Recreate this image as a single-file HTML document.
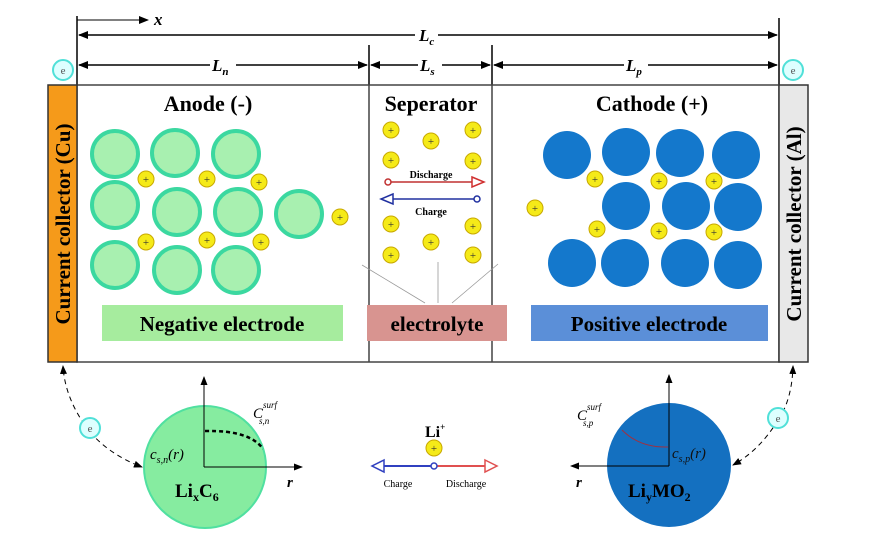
<!DOCTYPE html>
<html><head><meta charset="utf-8"><style>body{margin:0;background:#fff}svg{display:block}</style></head><body>
<svg width="880" height="540" viewBox="0 0 880 540" xmlns="http://www.w3.org/2000/svg" font-family="Liberation Serif, serif">
<defs>
<marker id="ah" markerWidth="10" markerHeight="8" refX="9" refY="4" orient="auto" markerUnits="userSpaceOnUse"><path d="M0,0 L10,4 L0,8 z" fill="#000"/></marker>
<marker id="ahs" markerWidth="9" markerHeight="7" refX="8" refY="3.5" orient="auto" markerUnits="userSpaceOnUse"><path d="M0,0 L9,3.5 L0,7 z" fill="#000"/></marker>
<g id="ion"><circle r="8" fill="#f5ea18" stroke="#c8a800" stroke-width="1"/><text y="4" font-size="11" text-anchor="middle" fill="#333">+</text></g>
<g id="an"><circle r="23" fill="#a8f0b0" stroke="#3bd8a0" stroke-width="4"/></g>
<g id="ca"><circle r="24" fill="#1478cc"/></g>
<g id="e"><circle r="10" fill="#dff" stroke="#50e0d8" stroke-width="2"/><text y="4" font-size="11" text-anchor="middle" fill="#555">e</text></g>
</defs>
<g stroke="#000" stroke-width="1.5">
<line x1="77" y1="16" x2="77" y2="85"/><line x1="779" y1="18" x2="779" y2="85"/>
<line x1="369" y1="45" x2="369" y2="85"/><line x1="492" y1="45" x2="492" y2="85"/>
<line x1="77" y1="20" x2="148" y2="20" marker-end="url(#ah)" stroke-width="1"/>
<line x1="415" y1="35" x2="79" y2="35" marker-end="url(#ah)"/><line x1="438" y1="35" x2="777" y2="35" marker-end="url(#ah)"/>
<line x1="210" y1="65" x2="79" y2="65" marker-end="url(#ah)"/><line x1="236" y1="65" x2="367" y2="65" marker-end="url(#ah)"/>
<line x1="418" y1="65" x2="371" y2="65" marker-end="url(#ah)"/><line x1="442" y1="65" x2="490" y2="65" marker-end="url(#ah)"/>
<line x1="624" y1="65" x2="494" y2="65" marker-end="url(#ah)"/><line x1="648" y1="65" x2="777" y2="65" marker-end="url(#ah)"/>
</g>
<g font-style="italic" font-weight="bold" font-size="17">
<text x="154" y="25">x</text><text x="419" y="41">L<tspan font-size="11" dy="4">c</tspan></text>
<text x="212" y="71">L<tspan font-size="11" dy="4">n</tspan></text><text x="420" y="71">L<tspan font-size="11" dy="4">s</tspan></text>
<text x="626" y="71">L<tspan font-size="11" dy="4">p</tspan></text>
</g>
<use href="#e" x="63" y="70"/><use href="#e" x="793" y="70"/>
<rect x="77" y="85" width="702" height="277" fill="#fff" stroke="#444" stroke-width="1.5"/>
<line x1="369" y1="85" x2="369" y2="362" stroke="#444" stroke-width="1.5"/>
<line x1="492" y1="85" x2="492" y2="362" stroke="#444" stroke-width="1.5"/>
<rect x="48" y="85" width="29" height="277" fill="#f59a1a" stroke="#333" stroke-width="1.5"/>
<rect x="779" y="85" width="29" height="277" fill="#e8e8e8" stroke="#333" stroke-width="1.5"/>
<text transform="translate(70,224) rotate(-90)" font-size="21" font-weight="bold" text-anchor="middle">Current collector (Cu)</text>
<text transform="translate(801,224) rotate(-90)" font-size="21" font-weight="bold" text-anchor="middle">Current collector (Al)</text>
<g font-size="22" font-weight="bold" text-anchor="middle">
<text x="208" y="111">Anode (-)</text><text x="431" y="111">Seperator</text><text x="652" y="111">Cathode (+)</text>
</g>
<use href="#an" x="115" y="154"/><use href="#an" x="175" y="153"/><use href="#an" x="236" y="154"/>
<use href="#an" x="115" y="205"/><use href="#an" x="177" y="212"/><use href="#an" x="238" y="212"/><use href="#an" x="299" y="214"/>
<use href="#an" x="115" y="265"/><use href="#an" x="177" y="270"/><use href="#an" x="236" y="270"/>
<use href="#ion" x="146" y="179"/><use href="#ion" x="207" y="179"/><use href="#ion" x="259" y="182"/><use href="#ion" x="340" y="217"/>
<use href="#ion" x="146" y="242"/><use href="#ion" x="207" y="240"/><use href="#ion" x="261" y="242"/>
<use href="#ca" x="567" y="155"/><use href="#ca" x="626" y="152"/><use href="#ca" x="680" y="153"/><use href="#ca" x="736" y="155"/>
<use href="#ca" x="626" y="206"/><use href="#ca" x="686" y="206"/><use href="#ca" x="738" y="207"/>
<use href="#ca" x="572" y="263"/><use href="#ca" x="625" y="263"/><use href="#ca" x="685" y="263"/><use href="#ca" x="738" y="265"/>
<use href="#ion" x="595" y="179"/><use href="#ion" x="659" y="181"/><use href="#ion" x="714" y="181"/><use href="#ion" x="535" y="208"/>
<use href="#ion" x="597" y="229"/><use href="#ion" x="659" y="231"/><use href="#ion" x="714" y="232"/>
<use href="#ion" x="391" y="130"/><use href="#ion" x="431" y="141"/><use href="#ion" x="473" y="130"/>
<use href="#ion" x="391" y="160"/><use href="#ion" x="473" y="161"/>
<use href="#ion" x="391" y="224"/><use href="#ion" x="431" y="242"/><use href="#ion" x="473" y="226"/>
<use href="#ion" x="391" y="255"/><use href="#ion" x="473" y="255"/>
<line x1="391" y1="182" x2="472" y2="182" stroke="#c03030" stroke-width="1.5"/><circle cx="388" cy="182" r="3" fill="#fff" stroke="#c03030" stroke-width="1.5"/>
<path d="M472,177 L484,182 L472,187 z" fill="#fff" stroke="#d03030" stroke-width="1.5"/>
<line x1="393" y1="199" x2="474" y2="199" stroke="#2030a0" stroke-width="1.5"/><circle cx="477" cy="199" r="3" fill="#fff" stroke="#2030a0" stroke-width="1.5"/>
<path d="M393,194 L381,199 L393,204 z" fill="#fff" stroke="#2030a0" stroke-width="1.5"/>
<text x="431" y="178" font-size="10" font-weight="bold" text-anchor="middle">Discharge</text>
<text x="431" y="215" font-size="10" font-weight="bold" text-anchor="middle">Charge</text>
<g stroke="#999" stroke-width="0.8"><line x1="425" y1="303" x2="362" y2="265"/><line x1="438" y1="303" x2="438" y2="262"/><line x1="452" y1="303" x2="498" y2="264"/></g>
<rect x="102" y="305" width="241" height="36" fill="#a6ec9e"/>
<rect x="367" y="305" width="140" height="36" fill="#d89490"/>
<rect x="531" y="305" width="237" height="36" fill="#5b8fd8"/>
<g font-size="21" font-weight="bold" text-anchor="middle">
<text x="222" y="331">Negative electrode</text><text x="437" y="331">electrolyte</text><text x="649" y="331">Positive electrode</text>
</g>
<!-- bottom -->
<circle cx="205" cy="467" r="61" fill="#86eca0" stroke="#50e0a0" stroke-width="2"/>
<circle cx="669" cy="465" r="62" fill="#1470c0"/>
<line x1="204" y1="467" x2="204" y2="377" stroke="#000" marker-end="url(#ahs)"/>
<line x1="204" y1="467" x2="302" y2="467" stroke="#000" marker-end="url(#ahs)"/>
<line x1="669" y1="466" x2="669" y2="375" stroke="#000" marker-end="url(#ahs)"/>
<line x1="669" y1="466" x2="571" y2="466" stroke="#000" marker-end="url(#ahs)"/>
<path d="M205,431 Q250,430 263,449" fill="none" stroke="#000" stroke-width="2.5" stroke-dasharray="4,3"/>
<path d="M622,430 Q640,448 668,447" fill="none" stroke="#a03040" stroke-width="1"/>
<g font-style="italic" font-size="15">
<text x="150" y="459">c<tspan font-size="10" dy="4">s,n</tspan><tspan dy="-4">(r)</tspan></text>
<text x="253" y="418">C<tspan font-size="9" dy="-10">surf</tspan><tspan font-size="9" dx="-18" dy="16">s,n</tspan></text>
<text x="577" y="420">C<tspan font-size="9" dy="-10">surf</tspan><tspan font-size="9" dx="-18" dy="16">s,p</tspan></text>
<text x="672" y="458" fill="#111">c<tspan font-size="10" dy="4">s,p</tspan><tspan dy="-4">(r)</tspan></text>
<text x="287" y="487" font-weight="bold">r</text><text x="576" y="487" font-weight="bold">r</text>
</g>
<text x="175" y="497" font-size="19" font-weight="bold">Li<tspan font-size="12" dy="4">x</tspan><tspan dy="-4">C</tspan><tspan font-size="12" dy="4">6</tspan></text>
<text x="628" y="497" font-size="19" font-weight="bold">Li<tspan font-size="12" dy="4">y</tspan><tspan dy="-4">MO</tspan><tspan font-size="12" dy="4">2</tspan></text>
<text x="425" y="437" font-size="16" font-weight="bold">Li<tspan font-size="9" dy="-7">+</tspan></text>
<use href="#ion" x="434" y="448"/>
<line x1="380" y1="466" x2="431" y2="466" stroke="#3040c0" stroke-width="2"/>
<line x1="437" y1="466" x2="487" y2="466" stroke="#e05050" stroke-width="2"/>
<path d="M384,460 L372,466 L384,472 z" fill="#fff" stroke="#3040c0" stroke-width="1.5"/>
<path d="M485,460 L497,466 L485,472 z" fill="#fff" stroke="#e05050" stroke-width="1.5"/>
<circle cx="434" cy="466" r="3" fill="#fff" stroke="#3040c0" stroke-width="1.5"/>
<text x="398" y="487" font-size="10" text-anchor="middle">Charge</text>
<text x="466" y="487" font-size="10" text-anchor="middle">Discharge</text>
<path d="M90,432 Q65,400 63,366" fill="none" stroke="#000" stroke-dasharray="5,4" marker-end="url(#ahs)"/>
<path d="M90,432 Q110,455 142,467" fill="none" stroke="#000" stroke-dasharray="5,4" marker-end="url(#ahs)"/>
<path d="M778,420 Q792,400 793,366" fill="none" stroke="#000" stroke-dasharray="5,4" marker-end="url(#ahs)"/>
<path d="M778,420 Q760,450 733,465" fill="none" stroke="#000" stroke-dasharray="5,4" marker-end="url(#ahs)"/>
<use href="#e" x="90" y="428"/><use href="#e" x="778" y="418"/>
</svg>
</body></html>
